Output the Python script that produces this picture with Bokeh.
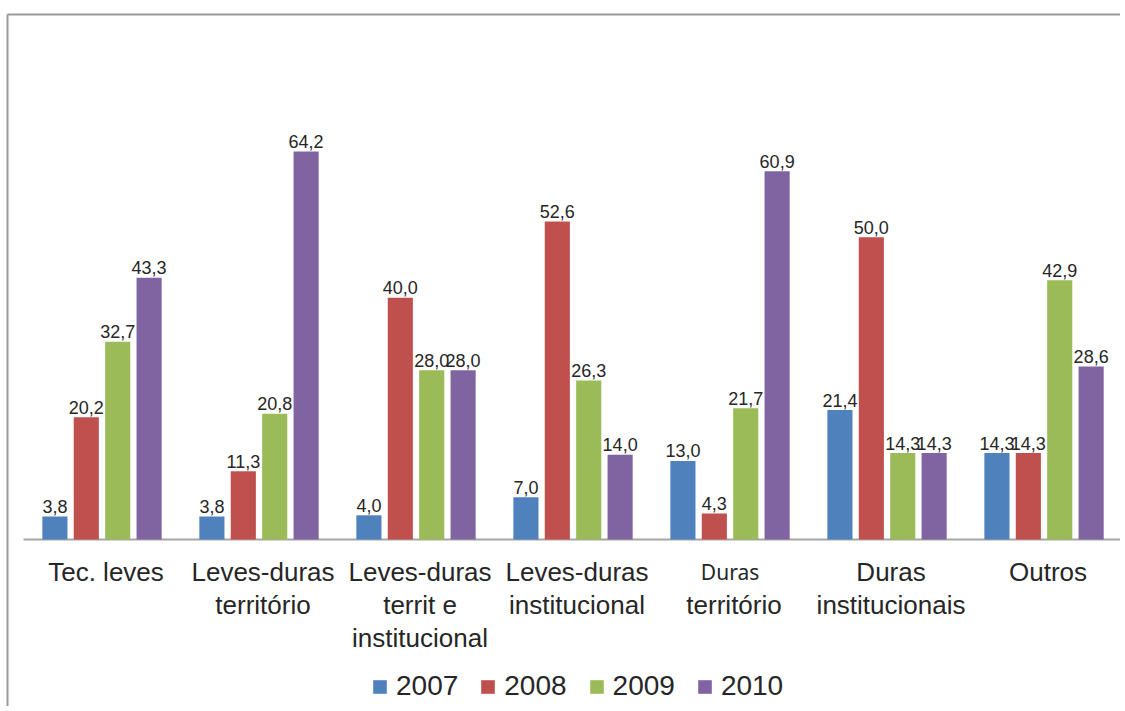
from bokeh.plotting import figure
from bokeh.models import ColumnDataSource, Range1d, Legend, LegendItem
from bokeh.core.properties import value
from bokeh.embed import file_html
from bokeh.resources import INLINE

categories = ["Tec. leves", "Leves-duras território", "Leves-duras territ e institucional",
              "Leves-duras institucional", "Duras território", "Duras institucionais", "Outros"]
category_lines = [["Tec. leves"],
                  ["Leves-duras", "território"],
                  ["Leves-duras", "territ e", "institucional"],
                  ["Leves-duras", "institucional"],
                  ["Duras", "território"],
                  ["Duras", "institucionais"],
                  ["Outros"]]
years = ["2007", "2008", "2009", "2010"]
v2007 = [3.8, 3.8, 4.0, 7.0, 13.0, 21.4, 14.3]
v2008 = [20.2, 11.3, 40.0, 52.6, 4.3, 50.0, 14.3]
v2009 = [32.7, 20.8, 28.0, 26.3, 21.7, 14.3, 42.9]
v2010 = [43.3, 64.2, 28.0, 14.0, 60.9, 14.3, 28.6]
series = [v2007, v2008, v2009, v2010]
colors = ["#4F81BD", "#C0504D", "#9BBB59", "#8064A2"]
offsets = [-0.3, -0.1, 0.1, 0.3]

W, H = 1120, 706
x0, x1 = -0.1465, 6.987
y0, y1 = -27.63, 89.16
xb, yb = -0.1019, 86.85

p = figure(width=W, height=H, output_backend="svg", toolbar_location=None,
           x_range=Range1d(x0, x1), y_range=Range1d(y0, y1),
           x_axis_location=None, y_axis_location=None, min_border=0)
p.grid.visible = False
p.outline_line_color = None
p.background_fill_color = "white"

# chart frame (left and top edges visible in the reference)
p.line([xb, xb], [y0, yb], line_color="#9a9a9a", line_width=2)
p.line([xb, x1], [yb, yb], line_color="#9a9a9a", line_width=2)
# baseline
p.line([0, x1], [0, 0], line_color="#a6a6a6", line_width=2)

renderers = []
for k, (vals, col, off) in enumerate(zip(series, colors, offsets)):
    xs = [i + 0.5 + off for i in range(len(categories))]
    src = ColumnDataSource(dict(x=xs, top=vals,
                                lab=[f"{v:.1f}".replace(".", ",") for v in vals]))
    r = p.vbar(x="x", top="top", width=0.16, bottom=0, source=src,
               fill_color=col, line_color=None)
    renderers.append(r)
    p.text(x="x", y="top", text="lab", source=src, text_align="center",
           text_baseline="alphabetic", y_offset=-10, text_font=value("Liberation Sans"),
           text_font_size="18px", text_color="#262626")

# category labels
for line_idx in range(3):
    xs, txt, xs_s, txt_s = [], [], [], []
    for i, lines in enumerate(category_lines):
        if line_idx < len(lines):
            if i == 4 and line_idx == 0:
                xs_s.append(i + 0.5); txt_s.append(lines[line_idx])
            else:
                xs.append(i + 0.5); txt.append(lines[line_idx])
    p.text(x=xs, y=[0] * len(xs), text=txt, text_align="center", text_baseline="alphabetic",
           x_offset=4, y_offset=33 + 33 * line_idx, text_font=value("Liberation Sans"),
           text_font_size="26px", text_color="#262626")
    if xs_s:
        p.text(x=xs_s, y=[0] * len(xs_s), text=txt_s, text_align="center",
               text_baseline="alphabetic", x_offset=0, y_offset=33 + 33 * line_idx,
               text_font=value("Noto Sans"), text_font_size="21px", text_color="#262626")

legend = Legend(items=[LegendItem(label=y, renderers=[r]) for y, r in zip(years, renderers)],
                orientation="horizontal", location=(371, 4),
                label_text_font_size="28px", label_text_font="Liberation Sans",
                label_text_color="#262626", glyph_width=17, glyph_height=17,
                label_standoff=8, spacing=21, padding=0, margin=0, label_height=30,
                border_line_color=None, background_fill_alpha=0)
p.add_layout(legend)

open("out.html", "w").write(file_html(p, INLINE))
